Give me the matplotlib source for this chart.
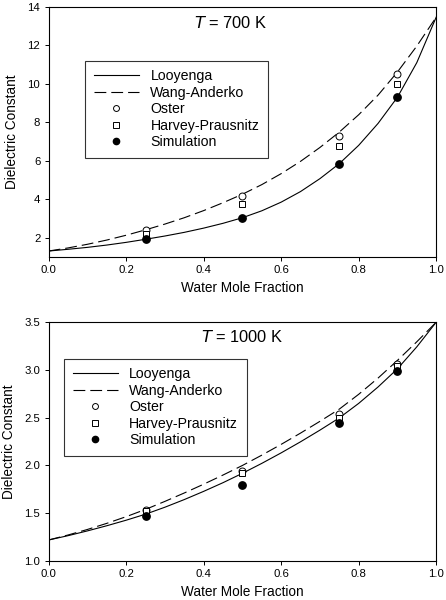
import numpy as np
import matplotlib
matplotlib.use("Agg")
import matplotlib.pyplot as plt

plt.rcParams['font.family'] = ['Liberation Sans', 'DejaVu Sans']
plt.rcParams['lines.scale_dashes'] = False

# model curves at 0.05 steps
x_curve = [0.00, 0.05, 0.10, 0.15, 0.20, 0.25, 0.30, 0.35, 0.40, 0.45, 0.50,
           0.55, 0.60, 0.65, 0.70, 0.75, 0.80, 0.85, 0.90, 0.95, 1.00]

looyenga_700 = [1.30, 1.39, 1.49, 1.61, 1.75, 1.91, 2.08, 2.27, 2.49, 2.74, 3.03,
                3.39, 3.84, 4.39, 5.06, 5.84, 6.79, 7.93, 9.29, 11.09, 13.45]
wang_700 = [1.30, 1.46, 1.65, 1.87, 2.12, 2.40, 2.70, 3.03, 3.40, 3.81, 4.25,
            4.75, 5.32, 5.96, 6.68, 7.48, 8.38, 9.40, 10.60, 11.95, 13.45]

looyenga_1000 = [1.220, 1.265, 1.315, 1.369, 1.427, 1.490, 1.563, 1.643, 1.729, 1.820, 1.918,
                 2.022, 2.132, 2.248, 2.370, 2.498, 2.650, 2.822, 3.012, 3.242, 3.500]
wang_1000 = [1.220, 1.272, 1.330, 1.394, 1.464, 1.540, 1.624, 1.712, 1.804, 1.900, 2.000,
             2.108, 2.221, 2.339, 2.462, 2.590, 2.745, 2.915, 3.100, 3.295, 3.500]

# point data
x_pts = [0.25, 0.50, 0.75, 0.90]

oster_700 = [2.40, 4.17, 7.26, 10.50]
harvey_700 = [2.19, 3.72, 6.75, 9.98]
sim_700 = [1.92, 3.03, 5.84, 9.30]

oster_1000 = [1.53, 1.94, 2.54, 3.06]
harvey_1000 = [1.52, 1.925, 2.50, 3.04]
sim_1000 = [1.475, 1.80, 2.44, 2.99]


def draw_panel(ax, looy, wang, oster, harvey, sim, title, ylim, yticks, leg_box):
    ax.plot(x_curve, looy, color='black', lw=0.8, label='Looyenga')
    ax.plot(x_curve, wang, color='black', lw=0.8, dashes=(8.5, 3.6), label='Wang-Anderko')
    ax.plot(x_pts, oster, 'o', ms=5.0, mfc='white', mec='black', mew=0.7, label='Oster')
    ax.plot(x_pts, harvey, 's', ms=4.3, mfc='white', mec='black', mew=0.7, label='Harvey-Prausnitz')
    ax.plot(x_pts, sim, 'o', ms=5.3, mfc='black', mec='black', label='Simulation')

    ax.set_xlim(0, 1)
    ax.set_ylim(*ylim)
    ax.set_xticks(np.arange(0, 1.01, 0.2))
    ax.set_xticklabels(['%.1f' % v for v in np.arange(0, 1.01, 0.2)])
    ax.set_yticks(yticks)
    ax.tick_params(direction='out', length=3, width=0.7, labelsize=8.2, pad=3,
                   top=False, right=False)
    for s in ax.spines.values():
        s.set_linewidth(0.8)

    ax.set_xlabel('Water Mole Fraction', fontsize=9.8, labelpad=4)
    ax.set_ylabel('Dielectric Constant', fontsize=9.8, labelpad=6)
    ax.text(title[0], title[1], title[2], transform=ax.transAxes, ha='center', va='center',
            fontsize=11.8)

    leg = ax.legend(loc='upper left', bbox_to_anchor=leg_box, fontsize=10.2, frameon=True,
                    fancybox=False, edgecolor='black', handlelength=3.2, handletextpad=0.8,
                    labelspacing=0.18, borderpad=0.6, markerscale=0.85, borderaxespad=0)
    leg.get_frame().set_linewidth(0.8)


fig = plt.figure(figsize=(4.46, 6.00), dpi=100)
ax1 = fig.add_axes([0.109, 0.572, 0.869, 0.417])
ax2 = fig.add_axes([0.109, 0.065, 0.869, 0.398])

draw_panel(ax1, looyenga_700, wang_700, oster_700, harvey_700, sim_700,
           (0.47, 0.936, r'$\it{T}$ = 700 K'), (1, 14), [2, 4, 6, 8, 10, 12, 14],
           (0.0945, 0.784))
draw_panel(ax2, looyenga_1000, wang_1000, oster_1000, harvey_1000, sim_1000,
           (0.50, 0.936, r'$\it{T}$ = 1000 K'), (1.0, 3.5), [1.0, 1.5, 2.0, 2.5, 3.0, 3.5],
           (0.040, 0.847))
ax2.set_yticklabels(['1.0', '1.5', '2.0', '2.5', '3.0', '3.5'])

fig.savefig('out.png', dpi=100)
